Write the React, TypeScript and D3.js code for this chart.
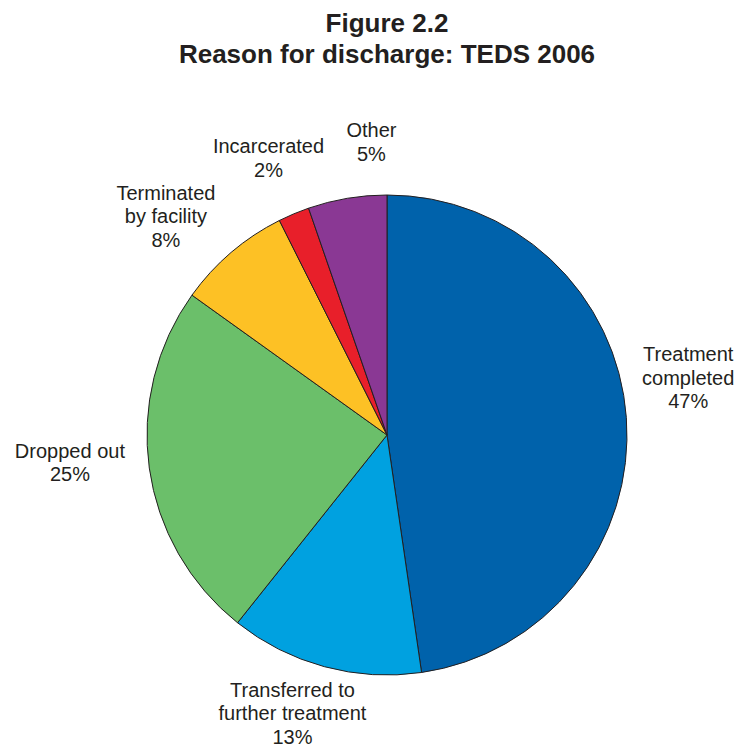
import React from "react";
import * as d3 from "d3";

const categories = [
  "Treatment completed",
  "Transferred to further treatment",
  "Dropped out",
  "Terminated by facility",
  "Incarcerated",
  "Other",
];
const categoryLines = [
  ["Treatment", "completed"],
  ["Transferred to", "further treatment"],
  ["Dropped out"],
  ["Terminated", "by facility"],
  ["Incarcerated"],
  ["Other"],
];
const values = [47.7, 13.0, 24.2, 7.7, 2.1, 5.3];
const percentLabels = ["47%", "13%", "25%", "8%", "2%", "5%"];
const colors = ["#0062AB", "#00A1E0", "#6BBF6A", "#FDC125", "#E81F2A", "#8A3894"];

const titleLines = ["Figure 2.2", "Reason for discharge: TEDS 2006"];

const W = 740;
const H = 749;
const cx = 387;
const cy = 435;
const R = 240;
const labelR = 305;
const nudges: [number, number][] = [
  [-3, -35],
  [-15, -16],
  [-15, -14.5],
  [-23, 13],
  [0, 4],
  [35, 8],
];

const FONT = "'Liberation Sans', Arial, Helvetica, sans-serif";
const INK = "#231F20";

export default function App() {
  const pie = d3
    .pie<number>()
    .sort(null)
    .value((d) => d)
    .startAngle(0)
    .endAngle(2 * Math.PI);
  const arcs = pie(values);
  const arc = d3.arc<d3.PieArcDatum<number>>().innerRadius(0).outerRadius(R);

  return (
    <svg
      width={W}
      height={H}
      style={{ position: "absolute", left: 0, top: 0, background: "#fff" }}
      fontFamily={FONT}
    >
      <rect width={W} height={H} fill="#fff" />
      <g>
        {titleLines.map((t, i) => (
          <text
            key={i}
            x={cx}
            y={32 + i * 31}
            textAnchor="middle"
            fontSize={26}
            fontWeight="bold"
            fill={INK}
          >
            {t}
          </text>
        ))}
      </g>
      <g transform={`translate(${cx},${cy})`}>
        {arcs.map((a, i) => (
          <path
            key={categories[i]}
            d={arc(a) || ""}
            fill={colors[i]}
            stroke={INK}
            strokeWidth={1}
            strokeLinejoin="round"
          />
        ))}
      </g>
      <g>
        {arcs.map((a, i) => {
          const mid = (a.startAngle + a.endAngle) / 2;
          const x = cx + labelR * Math.sin(mid) + nudges[i][0];
          const y = cy - labelR * Math.cos(mid) + nudges[i][1];
          const lines = [...categoryLines[i], percentLabels[i]];
          const n = lines.length;
          return (
            <text
              key={categories[i]}
              textAnchor="middle"
              fontSize={20}
              fill={INK}
            >
              {lines.map((l, j) => (
                <tspan key={j} x={x} y={y + (j - (n - 1) / 2) * 23.5 + 7}>
                  {l}
                </tspan>
              ))}
            </text>
          );
        })}
      </g>
    </svg>
  );
}
